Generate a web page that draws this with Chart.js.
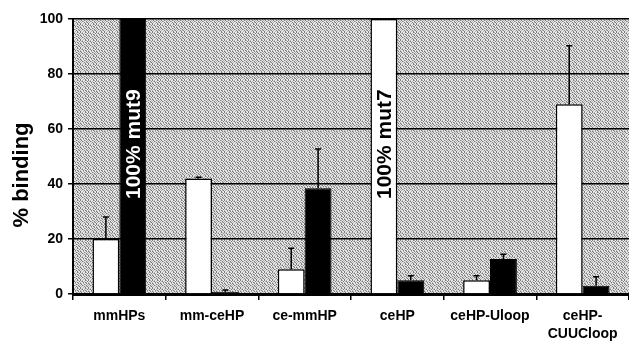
<!DOCTYPE html>
<html>
<head>
<meta charset="utf-8">
<script src="https://cdn.jsdelivr.net/npm/chart.js@4/dist/chart.umd.min.js"></script>
<style>
  html, body { margin: 0; padding: 0; background: #fff; }
  #wrap { width: 629px; height: 341px; }
</style>
</head>
<body>
<div id="wrap"><canvas id="bindingChart" width="629" height="341"></canvas></div>
<script>
// data
const categories = ['mmHPs', 'mm-ceHP', 'ce-mmHP', 'ceHP', 'ceHP-Uloop', ['ceHP-', 'CUUCloop']];
const whiteValues = [20, 42, 9, 100, 5, 69];
const blackValues = [100, 0.8, 38.5, 5, 12.7, 3];
// top of the error bar (upper end only)
const whiteErrTop = [28, 42.5, 16.6, null, 6.6, 90.3];
const blackErrTop = [null, 1.5, 52.7, 6.6, 14.5, 6.3];
// notes written inside bars
const whiteNotes = ['', '', '', '100% mut7', '', ''];
const blackNotes = ['100% mut9', '', '', '', '', ''];
const yTicks = [0, 20, 40, 60, 80, 100];

const FONT = '"Liberation Sans", Arial, Helvetica, sans-serif';

// stippled grey background (fixed 8x8 dot map)
const stipple = [
  '#.o..#o.',
  '.o#.o..#',
  'o..#.#o.',
  '#o.o..#.',
  '.#..#o.o',
  'o.#o..#.',
  '.o..#.o#',
  '#..o.#..'
];
function makePattern(ctx) {
  const c = document.createElement('canvas');
  c.width = 8; c.height = 8;
  const p = c.getContext('2d');
  const col = { '#': '#7c7c7c', 'o': '#b4b4b4', '.': '#e6e6e6' };
  stipple.forEach((row, y) => {
    row.split('').forEach((ch, x) => {
      p.fillStyle = col[ch];
      p.fillRect(x, y, 1, 1);
    });
  });
  return ctx.createPattern(c, 'repeat');
}

const plotBackground = {
  id: 'plotBackground',
  beforeDraw(chart) {
    const { ctx, chartArea: a } = chart;
    ctx.save();
    ctx.fillStyle = makePattern(ctx);
    ctx.fillRect(a.left, a.top, a.right - a.left, a.bottom - a.top);
    ctx.restore();
  }
};

// upper error bars
const errorBars = {
  id: 'errorBars',
  afterDatasetsDraw(chart) {
    const { ctx } = chart;
    const y = chart.scales.y;
    [whiteErrTop, blackErrTop].forEach((tops, di) => {
      const meta = chart.getDatasetMeta(di);
      meta.data.forEach((bar, i) => {
        if (tops[i] == null) return;
        const yTop = y.getPixelForValue(tops[i]);
        ctx.save();
        ctx.strokeStyle = '#000';
        ctx.lineWidth = 1.5;
        ctx.beginPath();
        ctx.moveTo(bar.x, bar.y);
        ctx.lineTo(bar.x, yTop);
        ctx.moveTo(bar.x - 3, yTop);
        ctx.lineTo(bar.x + 3, yTop);
        ctx.stroke();
        ctx.restore();
      });
    });
  }
};

// rotated notes inside the full bars + y axis title
const barNotes = {
  id: 'barNotes',
  afterDraw(chart) {
    const { ctx } = chart;
    const y = chart.scales.y;
    [[whiteNotes, '#000'], [blackNotes, '#fff']].forEach(([notes, color], di) => {
      const meta = chart.getDatasetMeta(di);
      notes.forEach((txt, i) => {
        if (!txt) return;
        const bar = meta.data[i];
        ctx.save();
        ctx.translate(bar.x + 1, y.getPixelForValue(54.5));
        ctx.rotate(-Math.PI / 2);
        ctx.fillStyle = color;
        ctx.font = 'bold 21px ' + FONT;
        ctx.textAlign = 'center';
        ctx.textBaseline = 'middle';
        ctx.fillText(txt, 0, 0);
        ctx.restore();
      });
    });
    ctx.save();
    ctx.translate(22, 175);
    ctx.rotate(-Math.PI / 2);
    ctx.fillStyle = '#000';
    ctx.font = 'bold 22px ' + FONT;
    ctx.textAlign = 'center';
    ctx.textBaseline = 'middle';
    ctx.fillText('% binding', 0, 0);
    ctx.restore();
  }
};

new Chart(document.getElementById('bindingChart').getContext('2d'), {
  type: 'bar',
  data: {
    labels: categories,
    datasets: [{
      data: whiteValues,
      backgroundColor: '#ffffff',
      borderColor: '#000000',
      borderWidth: 1.5,
      categoryPercentage: 0.58,
      barPercentage: 1
    }, {
      data: blackValues,
      backgroundColor: '#000000',
      borderColor: '#000000',
      borderWidth: 1,
      categoryPercentage: 0.58,
      barPercentage: 1
    }]
  },
  options: {
    responsive: false,
    animation: false,
    devicePixelRatio: 1,
    layout: { padding: { top: 19, right: 0, left: 0, bottom: 0 } },
    plugins: { legend: { display: false }, tooltip: { enabled: false } },
    scales: {
      x: {
        afterFit: s => { s.height = 47; },
        grid: { drawOnChartArea: false, drawTicks: true, tickLength: 6, color: '#000', lineWidth: 1.5 },
        border: { color: '#000', width: 3 },
        ticks: {
          color: '#000',
          padding: 7,
          maxRotation: 0,
          autoSkip: false,
          font: { family: FONT, size: 14, weight: 'bold', lineHeight: 1.3 }
        }
      },
      y: {
        min: 0,
        max: 100,
        afterFit: s => { s.width = 73; },
        afterBuildTicks: s => { s.ticks = yTicks.map(v => ({ value: v })); },
        grid: { color: '#000', lineWidth: 1.5, tickLength: 5 },
        border: { color: '#000', width: 2 },
        ticks: {
          color: '#000',
          padding: 5,
          font: { family: FONT, size: 14, weight: 'bold' }
        }
      }
    }
  },
  plugins: [plotBackground, errorBars, barNotes]
});
</script>
</body>
</html>
